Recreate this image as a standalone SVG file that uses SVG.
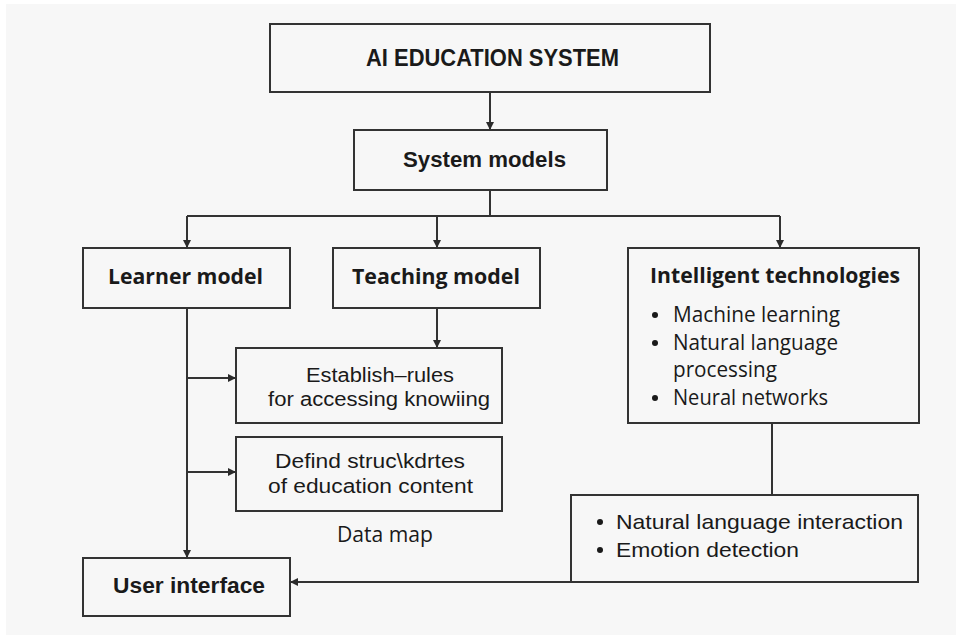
<svg xmlns="http://www.w3.org/2000/svg" width="956" height="639" viewBox="0 0 956 639">
<defs>
<marker id="arr" viewBox="0 0 10 10" refX="10" refY="5" markerWidth="9" markerHeight="8" markerUnits="userSpaceOnUse" orient="auto">
<path d="M0,0 L10,5 L0,10 z" fill="#2b2b2b"/>
</marker>
<style>
.box{fill:none;stroke:#333;stroke-width:2}
.cn{fill:none;stroke:#333;stroke-width:2}
.hd{font-family:"Liberation Sans",Arial,sans-serif;font-weight:bold;fill:#1a1a1a}
.hb{font-family:"Open Sans","Liberation Sans",sans-serif;font-weight:bold;fill:#1a1a1a}
.tx{font-family:"Open Sans","Liberation Sans",sans-serif;fill:#1a1a1a}
.tn{font-family:"Liberation Sans",Arial,sans-serif;fill:#1a1a1a}
.dot{fill:#1a1a1a}
</style>
</defs>
<rect x="0" y="0" width="956" height="639" fill="#ffffff"/>
<rect x="6" y="4" width="950" height="631" fill="#f7f7f7"/>

<g id="connectors">
<path class="cn" d="M490 92 V130" marker-end="url(#arr)"/>
<path class="cn" d="M490 190 V216"/>
<path class="cn" d="M187 216 H780"/>
<path class="cn" d="M187 216 V248" marker-end="url(#arr)"/>
<path class="cn" d="M437 216 V248" marker-end="url(#arr)"/>
<path class="cn" d="M780 216 V248" marker-end="url(#arr)"/>
<path class="cn" d="M187 308 V558" marker-end="url(#arr)"/>
<path class="cn" d="M187 378 H236" marker-end="url(#arr)"/>
<path class="cn" d="M187 472 H236" marker-end="url(#arr)"/>
<path class="cn" d="M437 308 V348" marker-end="url(#arr)"/>
<path class="cn" d="M772 423 V495"/>
<path class="cn" d="M571 582 H290" marker-end="url(#arr)"/>
</g>

<g id="ai-education-system">
<rect class="box" x="270" y="24" width="440" height="68"/>
<text class="hd" x="366" y="66" font-size="23" textLength="253" lengthAdjust="spacingAndGlyphs">AI EDUCATION SYSTEM</text>
</g>

<g id="system-models">
<rect class="box" x="354" y="130" width="253" height="60"/>
<text class="hd" x="403" y="167" font-size="22" textLength="163" lengthAdjust="spacingAndGlyphs">System models</text>
</g>

<g id="learner-model">
<rect class="box" x="83" y="248" width="207" height="60"/>
<text class="hb" x="108" y="284" font-size="21" textLength="155" lengthAdjust="spacingAndGlyphs">Learner model</text>
</g>

<g id="teaching-model">
<rect class="box" x="333" y="248" width="207" height="60"/>
<text class="hb" x="352" y="284" font-size="21" textLength="168" lengthAdjust="spacingAndGlyphs">Teaching model</text>
</g>

<g id="intelligent-technologies">
<rect class="box" x="628" y="248" width="291" height="175"/>
<text class="hb" x="650" y="283" font-size="21" textLength="250" lengthAdjust="spacingAndGlyphs">Intelligent technologies</text>
<circle class="dot" cx="655" cy="315" r="3"/>
<text class="tx" x="673" y="322" font-size="21" textLength="167" lengthAdjust="spacingAndGlyphs">Machine learning</text>
<circle class="dot" cx="655" cy="343" r="3"/>
<text class="tx" x="673" y="350" font-size="21" textLength="165" lengthAdjust="spacingAndGlyphs">Natural language</text>
<text class="tx" x="673" y="377" font-size="21" textLength="104" lengthAdjust="spacingAndGlyphs">processing</text>
<circle class="dot" cx="655" cy="398" r="3"/>
<text class="tx" x="673" y="405" font-size="21" textLength="155" lengthAdjust="spacingAndGlyphs">Neural networks</text>
</g>

<g id="establish-rules">
<rect class="box" x="236" y="348" width="266" height="75"/>
<text class="tn" x="306" y="382" font-size="20" textLength="148" lengthAdjust="spacingAndGlyphs">Establish–rules</text>
<text class="tn" x="268" y="406" font-size="20" textLength="222" lengthAdjust="spacingAndGlyphs">for accessing knowiing</text>
</g>

<g id="define-structures">
<rect class="box" x="236" y="437" width="266" height="74"/>
<text class="tn" x="275" y="468" font-size="20" textLength="190" lengthAdjust="spacingAndGlyphs">Defind struc\kdrtes</text>
<text class="tn" x="268" y="493" font-size="20" textLength="205" lengthAdjust="spacingAndGlyphs">of education content</text>
</g>

<g id="data-map">
<text class="tx" x="337" y="542" font-size="21" textLength="96" lengthAdjust="spacingAndGlyphs">Data map</text>
</g>

<g id="interaction">
<rect class="box" x="571" y="495" width="347" height="87"/>
<circle class="dot" cx="600" cy="522" r="3"/>
<text class="tn" x="616" y="529" font-size="21" textLength="287" lengthAdjust="spacingAndGlyphs">Natural language interaction</text>
<circle class="dot" cx="600" cy="550" r="3"/>
<text class="tn" x="616" y="557" font-size="21" textLength="183" lengthAdjust="spacingAndGlyphs">Emotion detection</text>
</g>

<g id="user-interface">
<rect class="box" x="83" y="558" width="207" height="58"/>
<text class="hd" x="113" y="593" font-size="22" textLength="152" lengthAdjust="spacingAndGlyphs">User interface</text>
</g>
</svg>
